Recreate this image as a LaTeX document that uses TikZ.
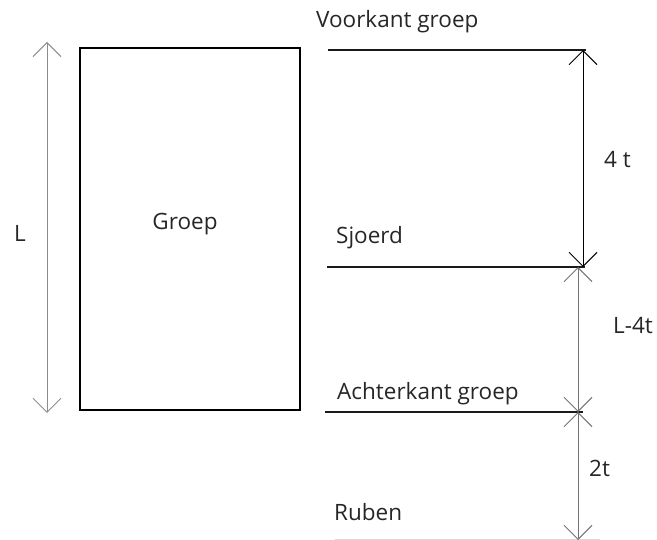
\documentclass[tikz,border=0pt]{standalone}
\usepackage{fontspec}
\setmainfont{Open Sans}
\usetikzlibrary{arrows.meta}
\begin{document}
\begin{tikzpicture}[x=1pt,y=-1pt,
  lbl/.style={inner sep=0pt,font=\fontsize{22.5}{25}\selectfont,text=black!85},
  hline/.style={line width=1.6pt,black!90},
  dim/.style={line width=1pt,{Straight Barb[length=14pt,width=28pt]}-{Straight Barb[length=14pt,width=28pt]}},
]
\useasboundingbox (0,0) rectangle (657,540);
\node[draw,line width=2.6pt,minimum width=220pt,minimum height=362pt,inner sep=0pt] (box) at (190,229) {};
\node[lbl] (groep) at (185,224) {Groep};
\coordinate (la) at (47,42);
\coordinate (lb) at (47,413);
\draw[dim,black!45] (la) -- (lb);
\node[lbl] (L) at (20,233) {L};

\coordinate (v1) at (328,50); \coordinate (v2) at (586,50);
\coordinate (s1) at (327,267); \coordinate (s2) at (585,267);
\coordinate (a1) at (325,412); \coordinate (a2) at (583,412);
\coordinate (r1) at (335,539); \coordinate (r2) at (600,539);
\draw[hline] (v1) -- (v2);
\draw[hline] (s1) -- (s2);
\draw[hline] (a1) -- (a2);
\draw[line width=0.8pt,black!15] (r1) -- (r2);

\coordinate (d1) at (583,50); \coordinate (d2) at (583,267);
\coordinate (e1) at (578,267); \coordinate (e2) at (578,412);
\coordinate (f1) at (578,412); \coordinate (f2) at (578,540);
\draw[dim,black] (d1) -- (d2);
\draw[dim,black!55] (e1) -- (e2);
\draw[dim,black!55] (f1) -- (f2);

\node[lbl,anchor=west] (voor) at (316,22) {Voorkant groep};
\node[lbl,anchor=west] (sj) at (336,238) {Sjoerd};
\node[lbl,anchor=west] (ach) at (337,394) {Achterkant groep};
\node[lbl,anchor=west] (rub) at (334,512) {Ruben};
\node[lbl,anchor=west] (t4) at (604,160) {4 t};
\node[lbl,anchor=west] (l4t) at (613,326) {L-4t};
\node[lbl,anchor=west] (t2) at (589,468) {2t};
\end{tikzpicture}
\end{document}
